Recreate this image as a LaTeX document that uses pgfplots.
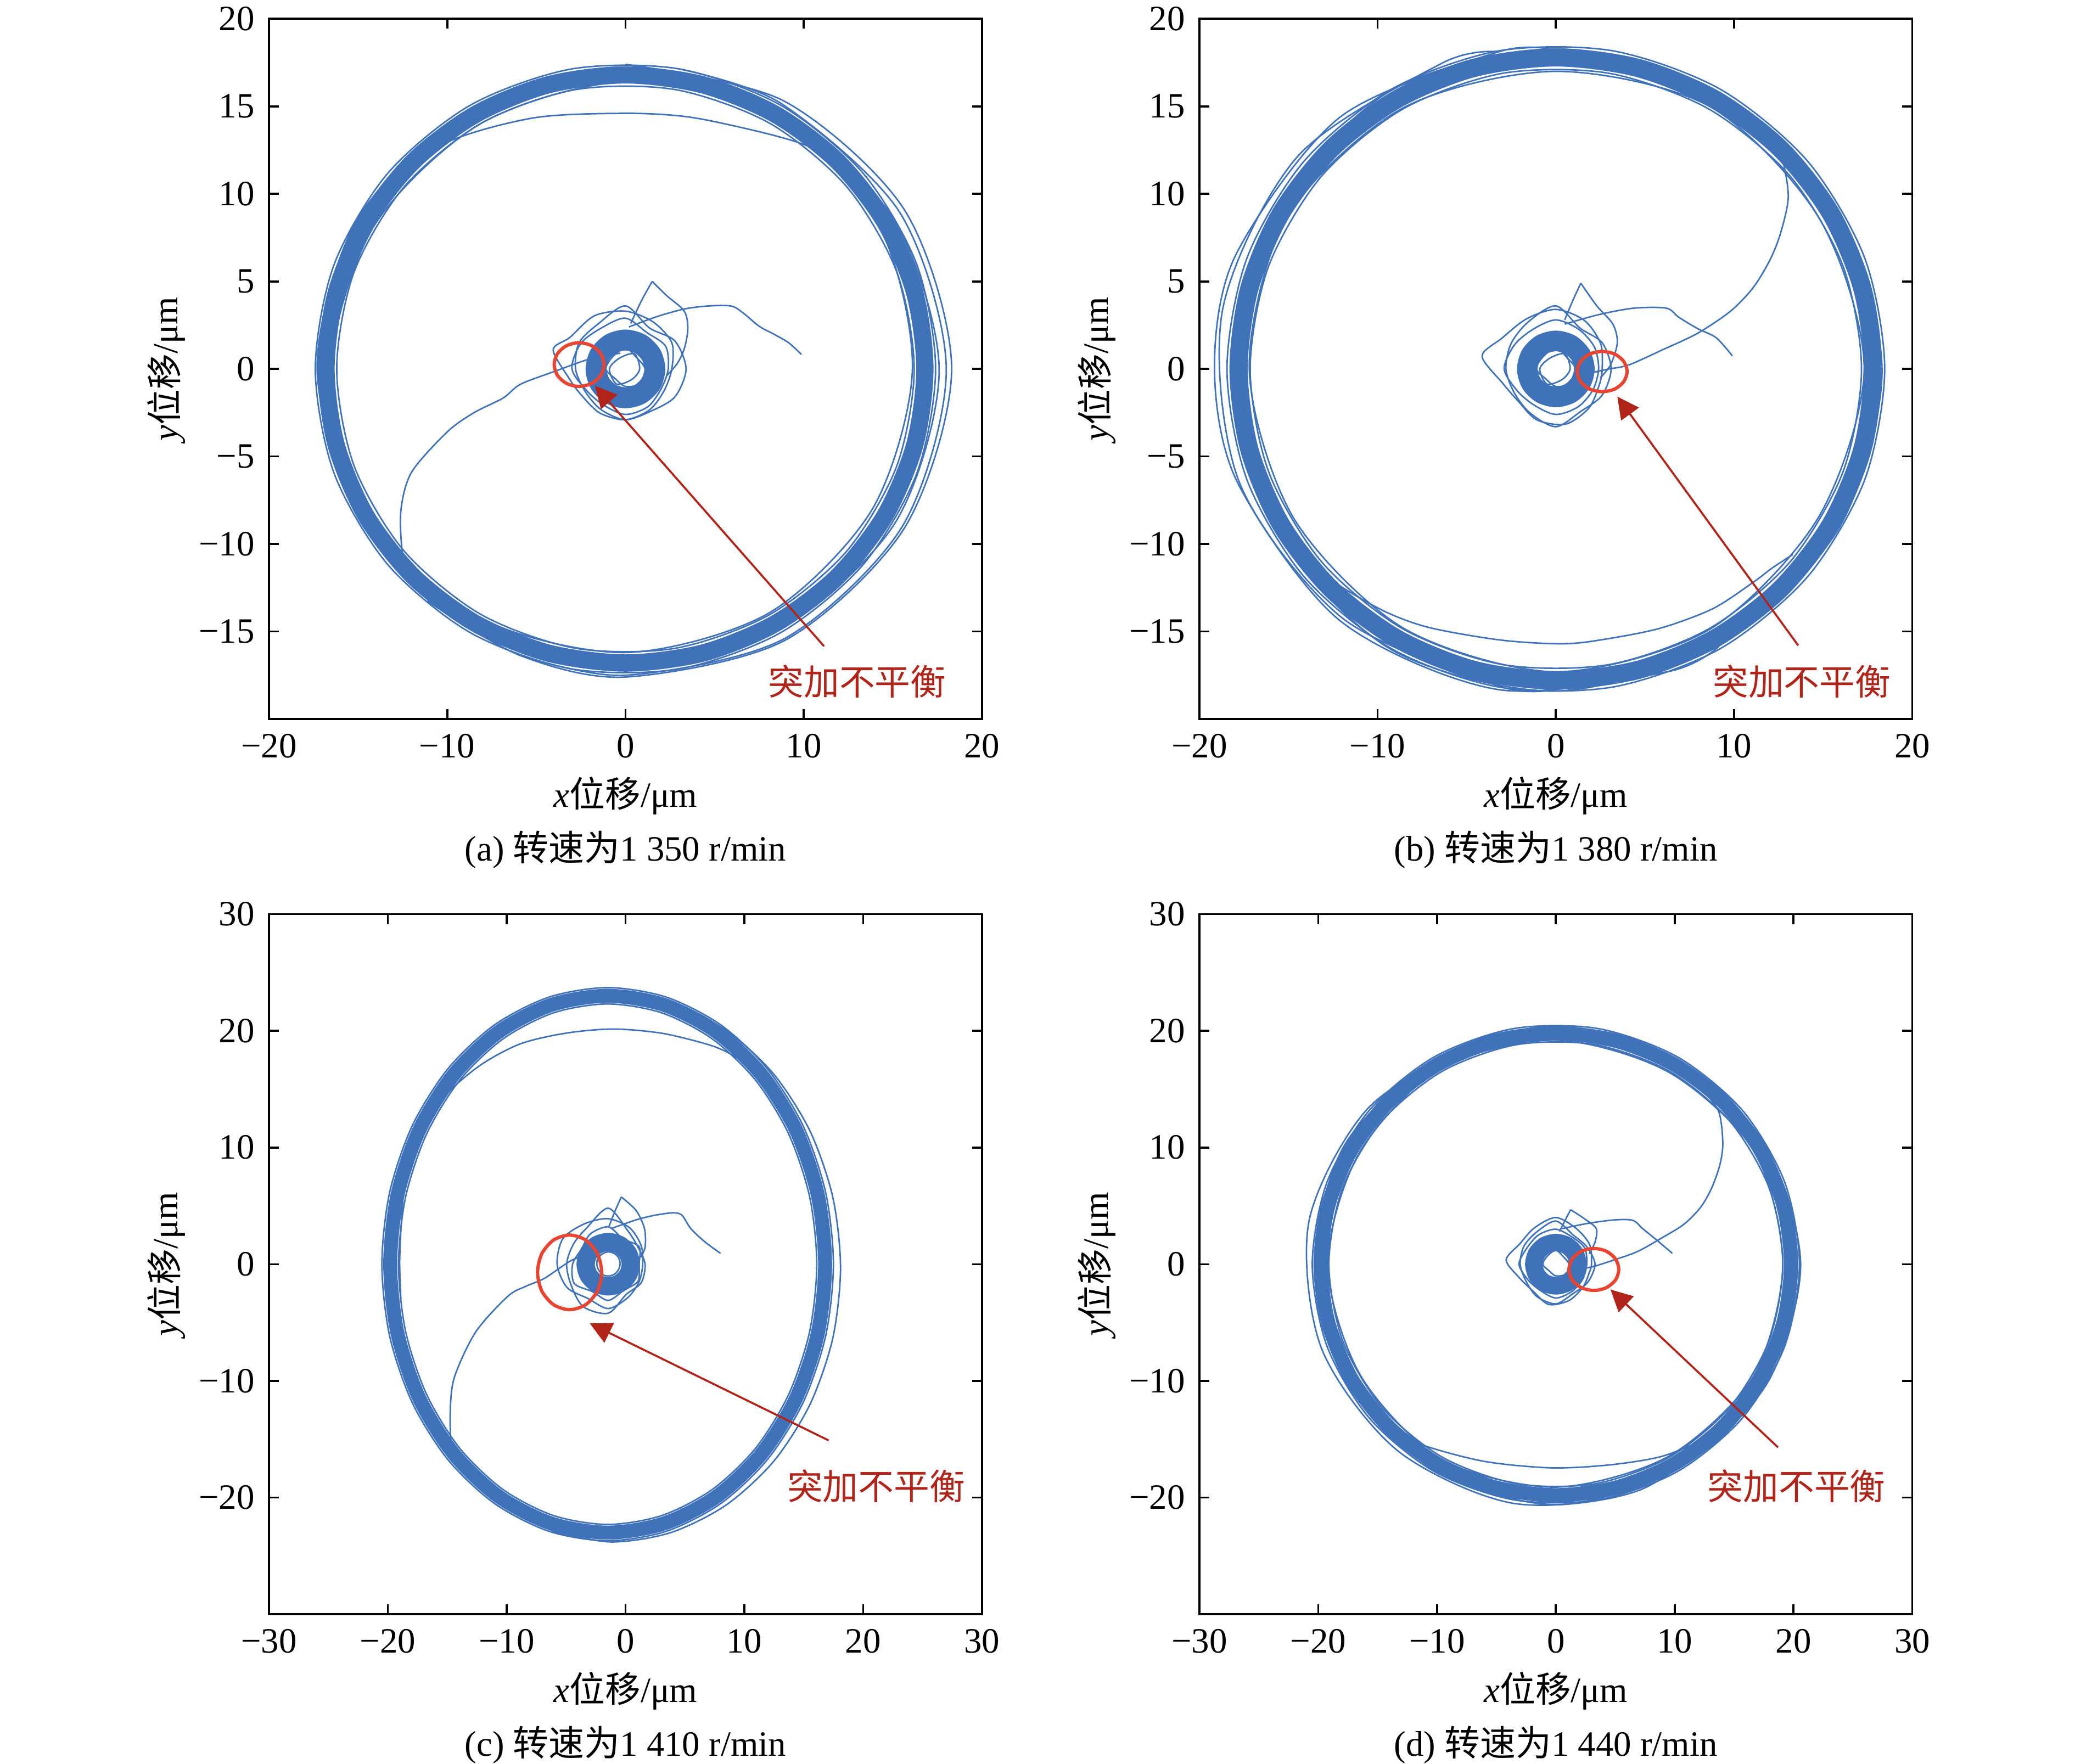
\documentclass[border=0pt]{standalone}
\usepackage{fontspec}
\setmainfont{Liberation Serif}
\newfontfamily\cjk{Noto Sans CJK SC}
\usepackage{pgfplots}
\pgfplotsset{compat=1.18}
\usetikzlibrary{arrows.meta}
\definecolor{orb}{RGB}{64,114,186}
\definecolor{redloop}{RGB}{232,68,50}
\definecolor{darkred}{RGB}{176,36,26}
\newcommand{\fs}{\fontsize{10.7}{12.5}\selectfont}
\tikzset{ann/.style={darkred,font=\fs\cjk}}
\pgfplotsset{
 orbit/.style={width=214.3pt,height=210.5pt,scale only axis,
  axis line style={line width=0.6pt},
  every tick/.style={black,line width=0.6pt},
  major tick length=3pt, tick align=inside,
  tick label style={font=\fs},
  xticklabel style={yshift=-0.9pt},
  yticklabel style={xshift=-0.8pt},
  label style={font=\fs},
  xlabel={\textit{x}{\cjk 位移}/μm},
  ylabel={\textit{y}{\cjk 位移}/μm},
  xlabel style={at={(axis description cs:0.5,-0.1097)},anchor=center},
  ylabel style={at={(axis description cs:-0.1442,0.5)},anchor=center},
  title style={at={(axis description cs:0.5,-0.215)},anchor=center,font=\fs},
 },
 tl/.style={orb,line width=0.45pt,smooth,no markers,line join=round},
 tlc/.style={orb,line width=0.45pt,smooth cycle,no markers,line join=round},
 core/.style={orb,smooth cycle,no markers},
 rl/.style={redloop,line width=1pt,smooth cycle,no markers},
 arr/.style={darkred,line width=0.6pt,-{Triangle[length=6.5pt,width=6.5pt]},no markers},
}
\begin{document}
\begin{tikzpicture}
\path[use as bounding box] (0,0) rectangle (623.7pt,-530.3pt);
%================= (a)
\begin{axis}[orbit, at={(80.85pt,-5.66pt)}, anchor=north west,
 xmin=-20,xmax=20,ymin=-20,ymax=20,
 xtick={-20,-10,0,10,20}, xticklabels={−20,−10,0,10,20},
 ytick={-15,-10,-5,0,5,10,15,20}, yticklabels={−15,−10,−5,0,5,10,15,20},
 title={(a) {\cjk 转速为}1 350 r/min}]
\addplot[core,line width=5.2pt,data cs=polar] coordinates {(0,16.8)(15,16.8)(30,16.8)(45,16.8)(60,16.8)(75,16.8)(90,16.8)(105,16.8)(120,16.8)(135,16.8)(150,16.8)(165,16.8)(180,16.8)(195,16.8)(210,16.8)(225,16.8)(240,16.8)(255,16.8)(270,16.8)(285,16.8)(300,16.8)(315,16.8)(330,16.8)(345,16.8)};
\addplot[tlc,data cs=polar] coordinates {(0,16.2)(20,16.2)(40,16.2)(60,16.2)(80,16.2)(100,16.2)(120,16.2)(140,16.2)(160,16.2)(180,16.2)(200,16.2)(220,16.2)(240,16.2)(260,16.2)(280,16.2)(300,16.2)(320,16.2)(340,16.2)};
\addplot[tlc,data cs=polar] coordinates {(0,17.4)(20,17.4)(40,17.4)(60,17.4)(80,17.4)(100,17.4)(120,17.4)(140,17.4)(160,17.4)(180,17.4)(200,17.4)(220,17.4)(240,17.4)(260,17.4)(280,17.4)(300,17.4)(320,17.4)(340,17.4)};
\addplot[tlc,data cs=polar] coordinates {(0,17.6)(30,17.3)(60,17.0)(90,16.9)(120,17.1)(150,17.3)(180,17.3)(210,17.0)(240,16.8)(270,16.9)(300,17.2)(330,17.5)};
\addplot[tlc,data cs=polar] coordinates {(0,16.1)(30,16.4)(60,16.6)(90,16.4)(120,16.2)(150,16.3)(180,16.5)(210,16.6)(240,16.4)(270,16.2)(300,16.1)(330,16.0)};
\addplot[tl,data cs=polar] coordinates {(230,17.3)(250,17.4)(270,17.6)(300,17.9)(330,18.1)(360,18.3)(390,18.1)(420,17.7)(450,17.4)};
\addplot[tl,data cs=polar] coordinates {(250,17.4)(270,17.5)(300,17.8)(330,17.95)(360,18.0)(390,17.8)(420,17.5)(440,17.4)};
\addplot[tl] coordinates {(-0.3,0.9)(-2.0,0.57)(-4.03,-0.16)(-5.9,-0.88)(-6.86,-1.66)(-8.5,-2.5)(-10,-3.6)(-12,-5.9)(-12.6,-8.1)(-12.5,-10.6)(-12.0,-12.0)(-11.0,-13.2)};
\addplot[tl] coordinates {(13.2,11.0)(12.0,11.9)(9.8,12.9)(7.1,13.65)(3.5,14.4)(0,14.6)(-5.1,14.35)(-10,12.95)(-13.4,10.4)(-15.7,6.5)(-16.4,2.8)(-16.4,0)(-16.1,-3.5)};
\addplot[core,line width=6.3pt,data cs=polar] coordinates {(0,1.65)(30,1.65)(60,1.65)(90,1.65)(120,1.65)(150,1.65)(180,1.65)(210,1.65)(240,1.65)(270,1.65)(300,1.65)(330,1.65)};
\addplot[tlc,data cs=polar] coordinates {(0,2.6)(30,3.0)(60,3.1)(90,3.3)(120,3.5)(150,3.6)(165,4.2)(190,3.2)(210,2.9)(240,2.9)(270,2.9)(300,2.7)(330,2.5)};
\addplot[tlc,data cs=polar] coordinates {(0,3.4)(30,3.2)(60,2.7)(90,3.6)(120,3.0)(150,3.0)(180,2.8)(210,2.6)(240,2.7)(270,2.9)(300,2.8)(330,3.2)};
\addplot[tlc,data cs=polar] coordinates {(0,2.4)(30,2.6)(60,2.4)(90,2.9)(120,2.7)(150,2.9)(180,3.0)(210,2.5)(240,2.4)(270,2.6)(300,2.5)(330,2.3)};
\addplot[tlc,data cs=polar] coordinates {(0,1.1)(45,0.9)(90,1.2)(135,1.0)(180,1.1)(225,0.8)(270,1.0)(315,1.2)};
\addplot[tlc,data cs=polar] coordinates {(0,0.8)(60,1.0)(120,0.7)(180,0.9)(240,1.0)(300,0.7)};
\addplot[tl] coordinates {(0.3,2.6)(0.9,3.9)(1.5,5.0)};
\addplot[tl] coordinates {(1.5,5.0)(2.3,4.2)(3.3,3.3)(3.5,2.3)(3.3,1.15)(2.9,0.3)(2.3,-0.4)};
\addplot[tl] coordinates {(0.2,2.4)(1.8,3.0)(3.33,3.43)(4.7,3.6)(5.94,3.59)(6.6,3.2)(7.5,2.44)(8.3,2.0)(9.15,1.5)(9.87,0.83)};
\addplot[rl] coordinates {(-1.2,0.25)(-1.39,0.875)(-1.9,1.33)(-2.6,1.5)(-3.3,1.33)(-3.81,0.875)(-4.0,0.25)(-3.81,-0.375)(-3.3,-0.83)(-2.6,-1.0)(-1.9,-0.83)(-1.39,-0.375)};
\addplot[arr] coordinates {(11.14,-15.84)(-1.71,-0.96)};
\node[ann] at (axis cs:13.0,-17.85) {突加不平衡};
\end{axis}
%================= (b)
\begin{axis}[orbit, at={(360.5pt,-5.66pt)}, anchor=north west,
 xmin=-20,xmax=20,ymin=-20,ymax=20,
 xtick={-20,-10,0,10,20}, xticklabels={−20,−10,0,10,20},
 ytick={-15,-10,-5,0,5,10,15,20}, yticklabels={−15,−10,−5,0,5,10,15,20},
 title={(b) {\cjk 转速为}1 380 r/min}]
\addplot[core,line width=5.5pt,data cs=polar] coordinates {(0,17.8)(15,17.8)(30,17.8)(45,17.8)(60,17.8)(75,17.8)(90,17.8)(105,17.8)(120,17.8)(135,17.8)(150,17.8)(165,17.8)(180,17.8)(195,17.8)(210,17.8)(225,17.8)(240,17.8)(255,17.8)(270,17.8)(285,17.8)(300,17.8)(315,17.8)(330,17.8)(345,17.8)};
\addplot[tlc,data cs=polar] coordinates {(0,17.15)(20,17.15)(40,17.15)(60,17.15)(80,17.15)(100,17.15)(120,17.15)(140,17.15)(160,17.15)(180,17.15)(200,17.15)(220,17.15)(240,17.15)(260,17.15)(280,17.15)(300,17.15)(320,17.15)(340,17.15)};
\addplot[tlc,data cs=polar] coordinates {(0,18.45)(20,18.45)(40,18.45)(60,18.45)(80,18.45)(100,18.45)(120,18.45)(140,18.45)(160,18.45)(180,18.45)(200,18.45)(220,18.45)(240,18.45)(260,18.45)(280,18.45)(300,18.45)(320,18.45)(340,18.45)};
\addplot[tlc,data cs=polar] coordinates {(0,18.3)(30,18.0)(60,17.7)(90,18.2)(120,18.4)(150,18.1)(180,17.9)(210,18.2)(240,18.5)(270,18.4)(300,18.1)(330,18.3)};
\addplot[tlc,data cs=polar] coordinates {(0,17.3)(30,17.1)(60,17.3)(90,17.0)(120,17.2)(150,17.4)(180,17.2)(210,17.0)(240,17.1)(270,17.3)(300,17.2)(330,17.0)};
\addplot[tl,data cs=polar] coordinates {(90,18.2)(100,18.4)(130,18.8)(160,19.1)(180,19.15)(200,19.0)(230,18.8)(260,18.6)(290,18.4)(300,18.3)};
\addplot[tl,data cs=polar] coordinates {(100,18.4)(110,18.6)(140,18.9)(170,19.0)(200,18.9)(230,18.6)(260,18.4)(270,18.3)};
\addplot[tl] coordinates {(-15.2,-9.3)(-13.8,-11.0)(-12.1,-12.4)(-9.5,-13.9)(-7,-14.8)(-3,-15.5)(0.5,-15.7)(3,-15.4)(5.9,-14.8)(8.8,-13.7)(11.06,-12.2)(12.1,-11.4)(13.3,-10.6)};
\addplot[tl] coordinates {(1.6,-0.3)(3.0,0.0)(4.1,0.23)(6.0,1.1)(7.96,2.04)(9.8,3.3)(11.06,4.63)(12.0,6.2)(12.6,7.73)(13.04,9.8)(12.73,11.87)(12.2,12.6)(11.6,13.2)};
\addplot[core,line width=6.2pt,data cs=polar] coordinates {(0,1.6)(30,1.6)(60,1.6)(90,1.6)(120,1.6)(150,1.6)(180,1.6)(210,1.6)(240,1.6)(270,1.6)(300,1.6)(330,1.6)};
\addplot[tlc,data cs=polar] coordinates {(0,2.6)(30,2.9)(60,3.2)(90,3.4)(120,3.3)(150,3.5)(170,4.2)(195,3.1)(220,2.8)(250,3.1)(280,3.2)(310,2.9)(340,2.6)};
\addplot[tlc,data cs=polar] coordinates {(0,3.1)(30,3.0)(60,2.7)(90,3.6)(120,3.1)(150,2.9)(180,2.8)(210,2.7)(240,2.9)(270,3.3)(300,2.8)(330,3.0)};
\addplot[tlc,data cs=polar] coordinates {(0,2.4)(30,2.5)(60,2.6)(90,2.8)(120,2.6)(150,2.7)(180,2.9)(210,2.5)(240,2.4)(270,2.6)(300,2.5)(330,2.4)};
\addplot[tlc,data cs=polar] coordinates {(0,1.1)(45,0.9)(90,1.2)(135,1.0)(180,1.1)(225,0.8)(270,1.0)(315,1.2)};
\addplot[tlc,data cs=polar] coordinates {(0,0.8)(60,1.0)(120,0.7)(180,0.9)(240,1.0)(300,0.7)};
\addplot[tl] coordinates {(0.5,2.8)(0.95,3.9)(1.4,4.9)};
\addplot[tl] coordinates {(1.4,4.9)(2.3,3.6)(3.2,2.56)(3.45,1.5)(3.07,0.23)(2.5,-0.5)};
\addplot[tl] coordinates {(0.5,2.56)(2.4,3.1)(4.36,3.47)(6.2,3.47)(6.9,2.95)(7.96,2.3)(9.0,1.78)(9.9,0.75)};
\addplot[rl] coordinates {(4.0,-0.15)(3.81,0.425)(3.3,0.85)(2.6,1.0)(1.9,0.85)(1.39,0.425)(1.2,-0.15)(1.39,-0.725)(1.9,-1.15)(2.6,-1.3)(3.3,-1.15)(3.81,-0.725)};
\addplot[arr] coordinates {(13.6,-15.8)(3.45,-1.58)};
\node[ann] at (axis cs:13.8,-17.87) {突加不平衡};
\end{axis}
%================= (c)
\begin{axis}[orbit, at={(80.85pt,-274.8pt)}, anchor=north west,
 xmin=-30,xmax=30,ymin=-30,ymax=30,
 xtick={-30,-20,-10,0,10,20,30}, xticklabels={−30,−20,−10,0,10,20,30},
 ytick={-20,-10,0,10,20,30}, yticklabels={−20,−10,0,10,20,30},
 title={(c) {\cjk 转速为}1 410 r/min}]
\addplot[core,line width=4.2pt] coordinates {(16.8,0)(16.18,5.95)(14.35,11.5)(11.44,16.26)(7.65,19.92)(3.24,22.22)(-1.5,23)(-6.24,22.22)(-10.65,19.92)(-14.44,16.26)(-17.35,11.5)(-19.18,5.95)(-19.8,0)(-19.18,-5.95)(-17.35,-11.5)(-14.44,-16.26)(-10.65,-19.92)(-6.24,-22.22)(-1.5,-23)(3.24,-22.22)(7.65,-19.92)(11.44,-16.26)(14.35,-11.5)(16.18,-5.95)};
\addplot[tlc] coordinates {(17.5,0)(16.85,6.13)(14.95,11.85)(11.93,16.76)(8.0,20.52)(3.42,22.89)(-1.5,23.7)(-6.42,22.89)(-11.0,20.52)(-14.93,16.76)(-17.95,11.85)(-19.85,6.13)(-20.5,0)(-19.85,-6.13)(-17.95,-11.85)(-14.93,-16.76)(-11.0,-20.52)(-6.42,-22.89)(-1.5,-23.7)(3.42,-22.89)(8.0,-20.52)(11.93,-16.76)(14.95,-11.85)(16.85,-6.13)};
\addplot[tlc] coordinates {(16.1,0)(15.5,5.77)(13.74,11.15)(10.95,15.77)(7.3,19.31)(3.05,21.54)(-1.5,22.3)(-6.05,21.54)(-10.3,19.31)(-13.95,15.77)(-16.74,11.15)(-18.5,5.77)(-19.1,0)(-18.5,-5.77)(-16.74,-11.15)(-13.95,-15.77)(-10.3,-19.31)(-6.05,-21.54)(-1.5,-22.3)(3.05,-21.54)(7.3,-19.31)(10.95,-15.77)(13.74,-11.15)(15.5,-5.77)};
\addplot[tlc] coordinates {(17.2,0)(16.56,6.06)(14.69,11.7)(11.72,16.55)(7.85,20.26)(3.34,22.6)(-1.5,23.4)(-6.34,22.6)(-10.85,20.26)(-14.72,16.55)(-17.69,11.7)(-19.56,6.06)(-20.2,0)(-19.56,-6.06)(-17.69,-11.7)(-14.72,-16.55)(-10.85,-20.26)(-6.34,-22.6)(-1.5,-23.4)(3.34,-22.6)(7.85,-20.26)(11.72,-16.55)(14.69,-11.7)(16.56,-6.06)};
\addplot[tl] coordinates {(-6.2,-22.9)(-1.2,-23.8)(3.8,-23.0)(8.45,-20.65)(12.45,-16.92)(15.51,-12.05)(17.44,-6.38)(18.1,-0.3)(17.44,5.78)(15.51,11.45)(12.45,16.32)(8.45,20.05)(3.8,22.4)(-1.2,23.2)(-6.2,22.6)};
\addplot[tl] coordinates {(11.8,16.2)(10.5,17.0)(8.5,18.2)(6.7,18.9)(3,19.8)(-1.04,20.15)(-5,19.8)(-8.8,18.9)(-12,17.2)(-14.6,15.05)(-16.4,12.8)(-17.6,10.4)(-18.5,7.5)(-18.8,4.6)(-19.0,0.35)(-18.9,-3)};
\addplot[tl] coordinates {(-2.6,1.0)(-4.5,0.35)(-6.8,-1.2)(-8.4,-1.9)(-9.9,-2.75)(-12.6,-5.8)(-14.4,-9.7)(-14.75,-12.8)(-14.6,-15.9)(-13.8,-17.4)(-12.5,-18.6)};
\addplot[core,line width=5.5pt] coordinates {(0.45,0)(0.195,0.95)(-0.5,1.645)(-1.45,1.9)(-2.4,1.645)(-3.095,0.95)(-3.35,0)(-3.095,-0.95)(-2.4,-1.645)(-1.45,-1.9)(-0.5,-1.645)(0.195,-0.95)};
\addplot[tlc] coordinates {(1.45,0)(1.32,1.6)(0.35,3.12)(-1.45,3.9)(-3.45,3.46)(-5.26,2.2)(-5.75,0)(-4.91,-2.0)(-3.15,-2.94)(-1.45,-3.8)(0.2,-2.86)(1.15,-1.5)};
\addplot[tlc] coordinates {(1.65,0)(1.06,1.45)(0.2,2.86)(-1.45,4.8)(-3.25,3.12)(-4.39,1.7)(-4.95,0)(-4.57,-1.8)(-3.55,-3.64)(-1.45,-4.2)(0.05,-2.6)(1.32,-1.6)};
\addplot[tlc] coordinates {(1.15,0)(1.15,1.5)(-0.2,2.17)(-1.45,3.2)(-2.95,2.6)(-3.7,1.3)(-4.45,0)(-4.31,-1.65)(-2.8,-2.34)(-1.45,-3.1)(-0.15,-2.25)(1.06,-1.45)};
\addplot[tlc] coordinates {(-0.45,0.1)(-0.6,0.6)(-1.0,0.95)(-1.5,1.05)(-2.0,0.85)(-2.35,0.45)(-2.4,-0.1)(-2.2,-0.6)(-1.8,-0.95)(-1.3,-1.0)(-0.85,-0.8)(-0.55,-0.4)};
\addplot[tl] coordinates {(-1.4,3.2)(-0.9,4.5)(-0.35,5.76)};
\addplot[tl] coordinates {(-0.35,5.76)(0.9,4.6)(1.6,3.05)(1.66,1.5)(1.3,0.6)};
\addplot[tl] coordinates {(-1.2,3.05)(0.9,3.8)(2.5,4.2)(4.0,4.4)(4.75,4.2)(5.5,3.05)(6.7,1.9)(8.0,0.93)};
\addplot[rl] coordinates {(-2.0,-0.7)(-2.36,0.9)(-3.35,2.07)(-4.7,2.5)(-6.05,2.07)(-7.04,0.9)(-7.4,-0.7)(-7.04,-2.3)(-6.05,-3.47)(-4.7,-3.9)(-3.35,-3.47)(-2.36,-2.3)};
\addplot[arr] coordinates {(17.1,-15.1)(-3.0,-5.07)};
\node[ann] at (axis cs:21.1,-19.0) {突加不平衡};
\end{axis}
%================= (d)
\begin{axis}[orbit, at={(360.5pt,-274.8pt)}, anchor=north west,
 xmin=-30,xmax=30,ymin=-30,ymax=30,
 xtick={-30,-20,-10,0,10,20,30}, xticklabels={−30,−20,−10,0,10,20,30},
 ytick={-20,-10,0,10,20,30}, yticklabels={−20,−10,0,10,20,30},
 title={(d) {\cjk 转速为}1 440 r/min}]
\addplot[core,line width=4.3pt,data cs=polar] coordinates {(0,19.8)(15,19.8)(30,19.8)(45,19.8)(60,19.8)(75,19.8)(90,19.8)(105,19.8)(120,19.8)(135,19.8)(150,19.8)(165,19.8)(180,19.8)(195,19.8)(210,19.8)(225,19.8)(240,19.8)(255,19.8)(270,19.8)(285,19.8)(300,19.8)(315,19.8)(330,19.8)(345,19.8)};
\addplot[tlc,data cs=polar] coordinates {(0,19.1)(20,19.1)(40,19.1)(60,19.1)(80,19.1)(100,19.1)(120,19.1)(140,19.1)(160,19.1)(180,19.1)(200,19.1)(220,19.1)(240,19.1)(260,19.1)(280,19.1)(300,19.1)(320,19.1)(340,19.1)};
\addplot[tlc,data cs=polar] coordinates {(0,20.5)(20,20.5)(40,20.5)(60,20.5)(80,20.5)(100,20.5)(120,20.5)(140,20.5)(160,20.5)(180,20.5)(200,20.5)(220,20.5)(240,20.5)(260,20.5)(280,20.5)(300,20.5)(320,20.5)(340,20.5)};
\addplot[tlc,data cs=polar] coordinates {(0,20.6)(30,20.3)(60,20.1)(90,20.4)(120,20.2)(150,20.5)(180,20.3)(210,20.1)(240,20.4)(270,20.6)(300,20.3)(330,20.5)};
\addplot[tlc,data cs=polar] coordinates {(0,19.1)(30,19.3)(60,19.0)(90,19.2)(120,19.4)(150,19.1)(180,19.2)(210,19.0)(240,19.3)(270,19.1)(300,19.0)(330,19.2)};
\addplot[tl,data cs=polar] coordinates {(100,20.1)(110,20.3)(140,20.7)(170,21.1)(200,21.0)(230,20.8)(260,20.8)(290,20.6)(320,20.3)(330,20.2)};
\addplot[tl] coordinates {(-17.6,-9.8)(-16.25,-12.0)(-14,-14.0)(-11.2,-15.5)(-6,-16.9)(-0.4,-17.45)(4.5,-17.2)(8.8,-16.5)(12,-15.2)(14.6,-13.6)(16.6,-11.6)(17.6,-10.2)};
\addplot[tl] coordinates {(1.8,-0.4)(3.05,-0.23)(5.0,0.4)(6.9,1.1)(9.0,2.3)(10.8,3.44)(12.2,4.9)(13.1,6.5)(13.8,8.5)(14.05,10.4)(13.7,13.1)(12.3,15.0)(11.3,16.0)};
\addplot[core,line width=5.3pt,data cs=polar] coordinates {(0,1.85)(30,1.85)(60,1.85)(90,1.85)(120,1.85)(150,1.85)(180,1.85)(210,1.85)(240,1.85)(270,1.85)(300,1.85)(330,1.85)};
\addplot[tlc,data cs=polar] coordinates {(0,3.0)(30,3.3)(60,3.5)(90,4.0)(120,3.6)(150,3.5)(175,4.2)(200,3.3)(230,3.0)(260,3.5)(290,3.3)(320,3.0)(345,2.9)};
\addplot[tlc,data cs=polar] coordinates {(0,3.3)(30,3.0)(60,2.9)(90,3.7)(120,3.2)(150,3.1)(180,3.0)(210,2.9)(240,3.2)(270,3.4)(300,2.9)(330,3.1)};
\addplot[tlc,data cs=polar] coordinates {(0,2.6)(30,2.8)(60,2.7)(90,3.0)(120,2.9)(150,2.8)(180,3.1)(210,2.7)(240,2.6)(270,2.9)(300,2.7)(330,2.6)};
\addplot[tlc,data cs=polar] coordinates {(0,1.1)(45,0.9)(90,1.2)(135,1.0)(180,1.1)(225,0.8)(270,1.0)(315,1.2)};
\addplot[tl] coordinates {(0.3,2.8)(0.8,3.8)(1.24,4.67)};
\addplot[tl] coordinates {(1.24,4.67)(2.4,3.9)(3.4,3.05)(3.3,1.9)(2.8,0.9)};
\addplot[tl] coordinates {(0.54,3.05)(2.7,3.5)(5.0,3.8)(6.5,3.75)(7.3,3.05)(8.45,2.1)(9.8,0.93)};
\addplot[rl] coordinates {(5.3,-0.45)(5.02,0.45)(4.25,1.11)(3.2,1.35)(2.15,1.11)(1.38,0.45)(1.1,-0.45)(1.38,-1.35)(2.15,-2.01)(3.2,-2.25)(4.25,-2.01)(5.02,-1.35)};
\addplot[arr] coordinates {(18.7,-15.7)(4.6,-2.17)};
\node[ann] at (axis cs:20.25,-19.0) {突加不平衡};
\end{axis}
\end{tikzpicture}
\end{document}
